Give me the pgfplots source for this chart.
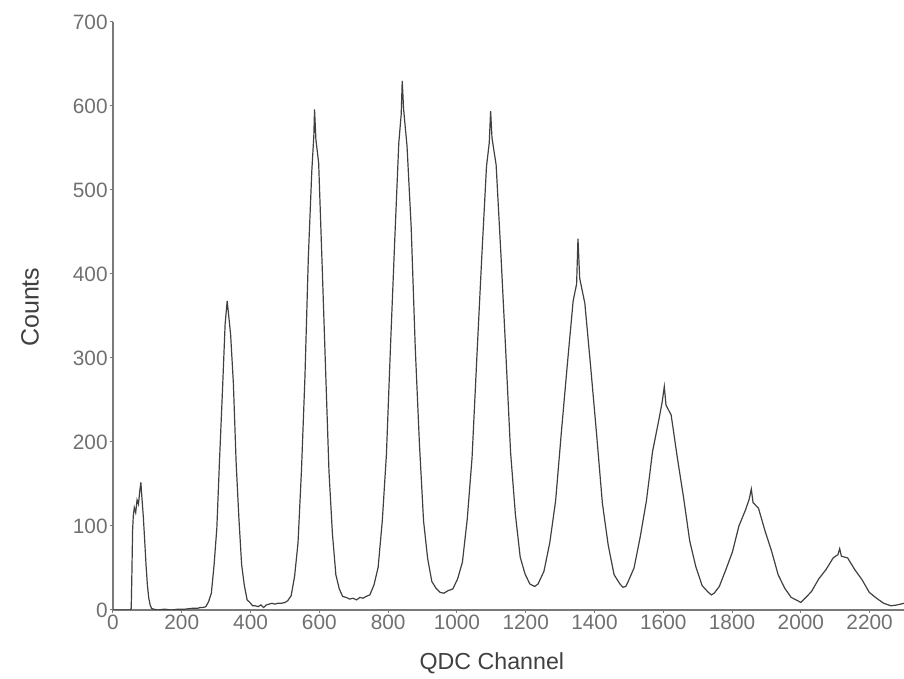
\documentclass[border=0pt]{standalone}
\usepackage{pgfplots}
\pgfplotsset{compat=1.18}
\usepackage{fontspec}
\setmainfont{Liberation Sans}
\definecolor{axgray}{HTML}{7A7A7A}
\definecolor{tickgray}{HTML}{707070}
\definecolor{labgray}{HTML}{404040}
\begin{document}
\begin{tikzpicture}
\begin{axis}[
  at={(0,0)}, anchor=south west,
  scale only axis, width=395.5pt, height=294pt,
  xmin=0, xmax=2300, ymin=0, ymax=700,
  axis x line*=bottom, axis y line*=left,
  axis line style={axgray, line width=0.8pt, -},
  xtick={0,200,...,2200}, ytick={0,100,...,700},
  tick style={axgray, line width=0.5pt},
  major tick length=1.5pt, tick align=outside,
  ticklabel style={font=\fontsize{10.4}{12}\selectfont, text=tickgray},
  xticklabel style={inner sep=1pt},
  yticklabel style={inner sep=1pt},
  /pgf/number format/assume math mode=true,
  /pgf/number format/1000 sep={},
  xlabel={QDC Channel}, ylabel={Counts},
  xlabel style={at={(axis description cs:0.479,-0.09)}, anchor=center, font=\fontsize{11.6}{13}\selectfont, text=labgray},
  ylabel style={at={(axis description cs:-0.105,0.515)}, anchor=center, font=\fontsize{12.5}{14}\selectfont, text=labgray},
]
\addplot[black!75, line width=0.6pt] coordinates {
(0,0) (20,0) (40,0) (50,0) (53,2) (55,45) (57,95) (59,112) (62,122) (66,116) (70,131) (74,126) (78,142) (81,152) (84,134) (88,112) (92,84) (96,54) (100,30) (104,14) (108,6) (112,2) (118,1) (130,0) (150,1) (170,0) (190,1) (210,1) (230,2) (245,2) (255,3) (262,3)
(270,4) (278,10) (286,20) (294,54) (302,98) (310,181) (318,258) (326,340) (332,368) (336,352) (342,328) (350,270) (358,176) (366,110) (374,54) (382,29) (390,12) (398,9) (406,5)
(414,5) (422,4) (430,6) (438,3) (446,6) (454,7) (462,8) (470,7) (480,8) (490,8) (500,9)
(508,11) (518,17) (528,40) (538,80) (548,166) (558,276) (568,420) (578,522) (584,565) (586,596) (590,560) (598,532) (608,412) (618,288) (628,165) (638,91) (648,42) (658,25) (668,16)
(678,15) (688,13) (698,14) (708,12) (718,15) (727,14)
(735,16) (747,18) (759,30) (771,51) (783,106) (795,185) (807,315) (819,438) (831,556) (838,590) (841,630) (845,596) (855,552) (867,456) (879,311) (891,198) (903,106) (915,61) (927,34) (939,26) (951,21) (962,20)
(974,23) (988,25) (1002,37) (1016,57) (1030,108) (1044,181) (1058,301) (1072,418) (1086,528) (1094,556) (1098,594) (1102,562) (1114,530) (1128,423) (1142,308) (1156,188) (1170,114) (1184,63) (1198,43) (1212,31) (1226,28)
(1236,31) (1253,46) (1270,80) (1287,130) (1304,213) (1321,292) (1338,368) (1348,388) (1352,442) (1357,395) (1372,365) (1389,289) (1406,210) (1423,127) (1440,77) (1457,42) (1474,31) (1483,27)
(1491,28) (1497,33) (1515,50) (1533,87) (1551,130) (1569,189) (1587,226) (1597,248) (1603,266) (1608,244) (1623,232) (1641,181) (1659,134) (1677,82) (1695,51) (1713,29) (1731,21) (1740,18)
(1748,20) (1763,28) (1782,48) (1801,69) (1820,100) (1839,119) (1850,132) (1856,144) (1861,128) (1877,121) (1896,94) (1915,70) (1934,42) (1953,26) (1972,15) (1991,11) (2000,9)
(2010,13) (2031,22) (2052,37) (2073,48) (2094,62) (2108,66) (2113,73) (2118,64) (2136,62) (2157,48) (2178,36) (2199,21) (2220,14) (2241,8) (2262,5) (2280,6) (2300,8)
};
\end{axis}
\pgfresetboundingbox
\path (-56.5pt,-34.5pt) rectangle (395.5pt,305pt);
\end{tikzpicture}
\end{document}
